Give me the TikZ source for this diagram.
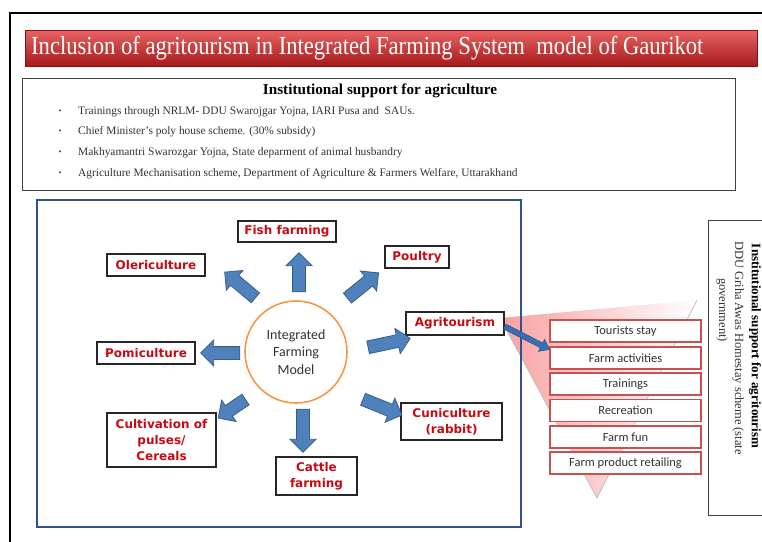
\documentclass[tikz,border=0pt]{standalone}
\usepackage{fontspec}
\setmainfont{Liberation Serif}
\newfontfamily\lblfont{DejaVu Sans}
\newfontfamily\calfont{Carlito}
\usetikzlibrary{shapes.arrows,arrows.meta}
\definecolor{labelred}{RGB}{200,10,20}
\definecolor{boxblue}{RGB}{47,82,143}
\definecolor{arrowfill}{RGB}{79,129,189}
\definecolor{arrowline}{RGB}{56,93,138}
\definecolor{ringorange}{RGB}{247,150,70}
\definecolor{listred}{RGB}{200,80,80}
\definecolor{textgray}{RGB}{50,50,50}
\definecolor{titletop}{RGB}{232,100,100}
\definecolor{titlemid}{RGB}{205,45,45}
\definecolor{titlebot}{RGB}{165,25,25}
\definecolor{funnelpink}{RGB}{248,160,160}
\definecolor{linkblue}{RGB}{55,110,185}

\begin{document}
\begin{tikzpicture}[x=1pt,y=-1pt,
  lbl/.style={draw=black!85, line width=1.3pt, fill=white,
    font=\lblfont\bfseries\fontsize{12}{16}\selectfont, text=labelred,
    align=center, inner sep=0pt},
  blockarr/.style={single arrow, draw=arrowline, line width=0.8pt, fill=arrowfill,
    inner xsep=0pt, inner ysep=6pt, single arrow head extend=6.5pt,
    minimum height=#1},
  listbox/.style={draw=listred, line width=1.4pt, fill=white, minimum width=151pt,
    minimum height=22pt, inner sep=0pt, font=\calfont\fontsize{12.5}{14}\selectfont,
    text=textgray},
  bulletdot/.style={inner sep=0pt, font=\fontsize{8}{10}\selectfont, text=textgray},
  bullettext/.style={anchor=west, inner sep=0pt, font=\fontsize{11.4}{13}\selectfont,
    text=textgray},
]
\useasboundingbox (0,0) rectangle (762,541);
\clip (0,0) rectangle (762,541);

% outer frame running off the page
\draw[line width=1.2pt] (10,13) rectangle (790,570);

% title banner
\shade[top color=titletop, middle color=titlemid, bottom color=titlebot,
  draw=titlebot!80!black, line width=0.6pt] (25,30) rectangle (757,66);
\node[text=white, anchor=west, inner sep=0pt] (title) at (31,48)
  {\scalebox{0.87}[1]{\fontsize{26}{28}\selectfont Inclusion of agritourism in Integrated Farming System\ \ model\ of Gaurikot}};

% institutional support for agriculture
\node[draw=black!75, line width=0.9pt, minimum width=713pt, minimum height=112pt,
  inner sep=0pt] (instbox) at (378.5,134) {};
\node[font=\bfseries\fontsize{15.2}{17}\selectfont, inner sep=0pt] (insthead) at (380,91)
  {Institutional support for agriculture};
\node[bulletdot] (d1) at (60,112) {\textbullet};
\node[bulletdot] (d2) at (60,132) {\textbullet};
\node[bulletdot] (d3) at (60,153) {\textbullet};
\node[bulletdot] (d4) at (60,174) {\textbullet};
\node[bullettext] (t1) at (78,112) {Trainings through NRLM- DDU Swarojgar Yojna, IARI Pusa and\ \ SAUs.};
\node[bullettext] (t2) at (78,132) {Chief Minister's poly house scheme. (30\% subsidy)};
\node[bullettext] (t3) at (78,153) {Makhyamantri Swarozgar Yojna, State deparment of animal husbandry};
\node[bullettext] (t4) at (78,174) {Agriculture Mechanisation scheme, Department of Agriculture \& Farmers Welfare, Uttarakhand};

% funnel behind the agritourism activities
\shade[left color=funnelpink, middle color=funnelpink!40, right color=white]
  (500,318) -- (697,300) -- (597,498) -- cycle;
\draw[black!25, line width=0.8pt] (697,300) -- (597,498) -- (500,318);

% frame of the farming model
\draw[boxblue, line width=2pt] (37,200) rectangle (521,527);

% agritourism activities
\node[listbox] (stay) at (625.5,331) {Tourists stay};
\node[listbox] (fa) at (625.5,358) {Farm activities};
\node[listbox] (train) at (625.5,384) {Trainings};
\node[listbox] (recr) at (625.5,410.5) {Recreation};
\node[listbox] (fun) at (625.5,437) {Farm fun};
\node[listbox] (retail) at (625.5,463) {Farm product retailing};

% institutional support for agritourism
\node[draw=black!75, line width=0.9pt, minimum width=70pt, minimum height=295pt,
  inner sep=0pt] (rbox) at (743,367.5) {};
\node[rotate=-90, font=\bfseries\fontsize{13}{15}\selectfont, inner sep=0pt] (rtitle)
  at (755,346) {Institutional support for agritourism};
\node[rotate=-90, font=\fontsize{12.5}{15}\selectfont, inner sep=0pt, text=textgray] (rline)
  at (738,348) {DDU Griha Awas Homestay scheme (state};
\node[rotate=-90, font=\fontsize{12.5}{15}\selectfont, inner sep=0pt, text=textgray] (rgov)
  at (722,310) {government)};

% core of the model
\node[circle, draw=ringorange, line width=1.6pt, minimum size=102pt, inner sep=0pt,
  font=\calfont\fontsize{14}{17.5}\selectfont, text=textgray, align=center] (ifm)
  at (296,352) {Integrated\\Farming\\Model};

% components
\node[lbl, minimum width=98pt, minimum height=21pt] (fish) at (287,231.5) {Fish farming};
\node[lbl, minimum width=98pt, minimum height=22pt] (oleri) at (156,265) {Olericulture};
\node[lbl, minimum width=64pt, minimum height=22pt] (poultry) at (417,257) {Poultry};
\node[lbl, minimum width=98pt, minimum height=23pt] (agri) at (455,323.5) {Agritourism};
\node[lbl, minimum width=98pt, minimum height=22pt] (pomi) at (146,353) {Pomiculture};
\node[lbl, minimum width=109pt, minimum height=54pt] (pulses) at (161.5,440)
  {Cultivation of\\pulses/\\Cereals};
\node[lbl, minimum width=81pt, minimum height=38pt] (cattle) at (316.5,476) {Cattle\\farming};
\node[lbl, minimum width=101pt, minimum height=37pt] (cuni) at (451.5,421.5) {Cuniculture\\(rabbit)};

% block arrows from the core
\node[blockarr=39pt, rotate=90] (afish) at (299,275.5) {};
\node[blockarr=40pt, rotate=140] (aoleri) at (242.5,287) {};
\node[blockarr=40pt, rotate=39] (apoultry) at (360.5,287.5) {};
\node[blockarr=43pt, rotate=12] (aagri) at (386,343.5) {};
\node[blockarr=39pt, rotate=180] (apomi) at (223.5,353) {};
\node[blockarr=33pt, rotate=214] (apulses) at (234.5,407) {};
\node[blockarr=43pt, rotate=-90] (acattle) at (303,427.5) {};
\node[blockarr=42pt, rotate=-22] (acuni) at (379.5,406) {};

% link from agritourism to its activities
\draw[arrowline, line width=6pt, -{Triangle[length=10pt,width=14pt]}, shorten >=-1pt]
  ([yshift=-3pt]agri.east) -- ([yshift=-3pt]fa.north west);
\draw[linkblue, line width=4pt, -{Triangle[length=8pt,width=11pt]}]
  ([yshift=-3pt]agri.east) -- ([yshift=-3pt]fa.north west);
\end{tikzpicture}
\end{document}
